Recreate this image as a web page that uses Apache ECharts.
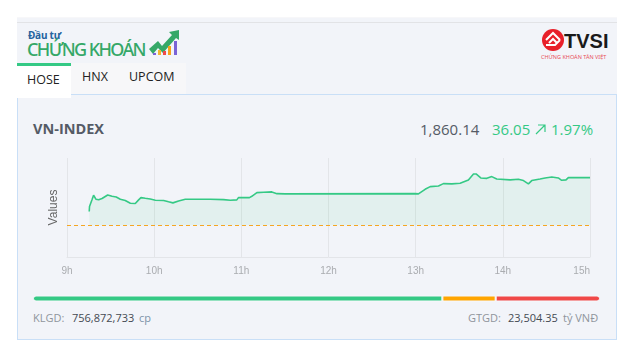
<!DOCTYPE html>
<html>
<head>
<meta charset="utf-8">
<script src="https://cdn.jsdelivr.net/npm/echarts@6/dist/echarts.min.js"></script>
<style>
html,body{margin:0;padding:0;background:#fff;width:637px;height:361px;overflow:hidden}
body{font-family:"Open Sans","Noto Sans",sans-serif;position:relative}
.a{position:absolute;white-space:nowrap;line-height:1}
#band{left:17px;top:17px;width:600px;height:78px;background:#f2f4f9;border-top:1px solid #f7f7f9;box-sizing:border-box}
#line{left:17px;top:22px;width:600px;height:1px;background:#e2e3e6}
#card{left:17px;top:94px;width:600px;height:246px;background:#f2f4f9;border:1px solid #c9dff7;box-sizing:border-box}
#tabs{left:71px;top:63px;width:115px;height:31px;background:#f7f7f9}
#hose{left:17px;top:63px;width:54px;height:35px;background:#fff;border-top:3px solid #35c985;box-sizing:border-box}
#chart{left:0;top:0;width:637px;height:361px}
</style>
</head>
<body>
<div class="a" id="band"></div><div class="a" id="line"></div><div class="a" id="card"></div>
<div class="a" id="tabs"></div><div class="a" id="hose"></div>
<div class="a" style="left:28px;top:28px;font:700 10px 'Noto Sans';color:#25639e;letter-spacing:-.2px">Đầu tư</div>
<div class="a" style="left:27px;top:37px;font:500 18px 'Noto Sans';letter-spacing:-1.6px;color:#35a868">CHỨNG KHOÁN</div>
<svg class="a" style="left:148px;top:29px" width="32" height="28" viewBox="0 0 32 28">
<path d="M1 20L10 12L14 17L24 6L21 3L31 1L31 11L28 9L15 24L10 19L5 25Z" fill="#35a868"/>
<rect x="5" y="24" width="3" height="2" fill="#7a63d6"/><rect x="10" y="21" width="3" height="5" fill="#f2b632"/>
<rect x="15" y="22" width="3" height="4" fill="#ef4b4b"/><rect x="20" y="17" width="3" height="9" fill="#f7a21a"/><rect x="26" y="12" width="3" height="14" fill="#7a63d6"/>
</svg>
<svg class="a" style="left:541px;top:28px" width="24" height="24" viewBox="0 0 24 24">
<circle cx="12" cy="12" r="11" fill="#e8202a"/>
<path d="M5 12L12 5L19 12M8 15L12 11L16 15M5 17H14L19 12" fill="none" stroke="#fff" stroke-width="2"/>
</svg>
<div class="a" style="left:564px;top:30px;font:700 20px 'Liberation Sans';color:#1a1a1a">TVSI</div>
<div class="a" style="left:541px;top:53px;font:400 5.5px 'Noto Sans';color:#e8505a">CHỨNG KHOÁN TÂN VIỆT</div>
<div class="a" style="left:27px;top:74px;font-size:12.5px;color:#222">HOSE</div>
<div class="a" style="left:82px;top:71px;font-size:12.5px;color:#222">HNX</div>
<div class="a" style="left:129px;top:71px;font-size:12.5px;color:#222">UPCOM</div>
<div class="a" style="left:33px;top:122px;font-size:14.5px;font-weight:700;color:#555b66">VN-INDEX</div>
<div class="a" style="left:420px;top:122px;font-size:15px;color:#555b66">1,860.14</div>
<div class="a" style="left:492px;top:122px;font-size:15px;color:#35c985">36.05</div>
<svg class="a" style="left:534px;top:123px" width="13" height="13" viewBox="0 0 13 13"><path d="M2 11L11 2M4 2H11V9" fill="none" stroke="#35c985" stroke-width="1.2"/></svg>
<div class="a" style="left:551px;top:122px;font-size:15px;color:#35c985">1.97%</div>
<div class="a" style="left:33px;top:312px;font-size:11px;color:#8f949c">KLGD:</div>
<div class="a" style="left:72px;top:312px;font-size:11px;color:#444a52">756,872,733</div>
<div class="a" style="left:139px;top:312px;font-size:11px;color:#7d93a8">cp</div>
<div class="a" style="left:468px;top:312px;font-size:11px;color:#8f949c">GTGD:</div>
<div class="a" style="left:508px;top:312px;font-size:11px;color:#444a52">23,504.35</div>
<div class="a" style="left:563px;top:312px;font-size:11px;color:#8f949c">tỷ VNĐ</div>
<div class="a" id="chart"></div>
<script>
var tickLabels = ['9h','10h','11h','12h','13h','14h','15h'];
var prevClose = 1824.09;
var minutes = [15.3,15.5,17.2,18.3,19.9,21.8,24.1,28,31,33.9,36.7,40.1,43.6,47,49.3,50.9,53.9,57.3,60.8,66.5,69.9,72.9,76.8,81.4,89.4,98.6,107.8,112.4,116.9,118,125.6,127.2,130.7,135.3,141,144.5,150.2,239.6,240.3,241.9,243.1,246.5,250,255.7,259.1,264.9,270.6,276.3,279.8,281.6,284.8,289,292.4,295.8,305,310.7,314.2,317.6,319.9,325.6,329.1,330.2,333.7,338.2,340.5,343.5,345.1,360];
var index = [1834.46,1838.2,1843.3,1846.8,1843.8,1843.3,1844.3,1847.0,1846.0,1845.5,1843.8,1842.8,1840.75,1840.5,1843.3,1845.0,1844.5,1844.0,1843.0,1842.8,1841.8,1841.0,1842.5,1843.8,1843.8,1843.8,1843.5,1843.0,1843.3,1845,1845,1846,1848.8,1849.1,1849.3,1848.0,1847.8,1848.0,1846.8,1847.8,1847.8,1851.3,1853.3,1853.8,1855.6,1855.4,1855.9,1858.4,1862.9,1862.9,1859.9,1859.6,1860.9,1859.1,1858.4,1858.9,1857.9,1855.4,1857.9,1859.1,1859.9,1858.6,1860.6,1859.9,1858.1,1858.4,1860.14,1860.14];
var breadth = [72.2,9.4,18.4];
var breadthColors = ['#35c985','#ffa500','#f04848'];

var points = minutes.map(function(m,i){return [m,index[i]];});
var grey = '#e3e5e9';
var chart = echarts.init(document.getElementById('chart'),null,{renderer:'canvas'});
var barSeries = breadth.map(function(v,i){
  return {type:'bar',stack:'b',xAxisIndex:1,yAxisIndex:1,barWidth:6,silent:true,data:[v],
    itemStyle:{color:breadthColors[i],borderColor:'#f7f8fb',borderWidth:1,
      borderRadius:i===0?[3,0,0,3]:(i===2?[0,3,3,0]:0)}};
});
chart.setOption({
  animation:false,
  backgroundColor:'transparent',
  grid:[{left:67,top:158,width:523,height:99,containLabel:false},
        {left:33,top:295,width:567,height:7}],
  xAxis:[{type:'value',gridIndex:0,min:0,max:360,interval:60,
      axisLine:{show:true,lineStyle:{color:grey,width:1}},axisTick:{show:false},
      splitLine:{show:true,lineStyle:{color:grey,width:1}},
      axisLabel:{color:'#aaacb0',fontFamily:'Liberation Sans',fontSize:10,margin:9,alignMaxLabel:'right',
        formatter:function(v){return tickLabels[v/60];}}},
    {type:'value',gridIndex:1,min:0,max:100,show:false}],
  yAxis:[{type:'value',gridIndex:0,min:1800,max:1875,interval:75,name:'Values',nameLocation:'middle',nameRotate:90,nameGap:7,
      nameTextStyle:{color:'#666',fontFamily:'Liberation Sans',fontSize:12},
      axisLine:{show:false},axisTick:{show:false},axisLabel:{show:false},splitLine:{show:false}},
    {type:'category',gridIndex:1,data:['b'],show:false}],
  series:[{type:'line',xAxisIndex:0,yAxisIndex:0,data:points,showSymbol:false,silent:true,
      lineStyle:{color:'#35c985',width:1.6},
      areaStyle:{color:'rgba(53,201,133,0.12)',origin:prevClose},
      markLine:{silent:true,symbol:'none',label:{show:false},
        lineStyle:{color:'#f5a623',type:[4,3],width:1},
        data:[{yAxis:prevClose}]}}]
    .concat(barSeries)
});
</script>
</body>
</html>
